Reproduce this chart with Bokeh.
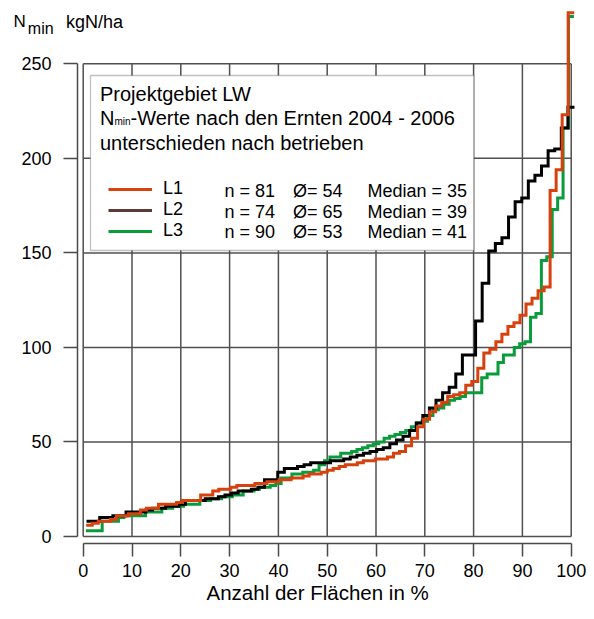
from bokeh.plotting import figure
from bokeh.models import (Range1d, LinearAxis, FixedTicker, BoxAnnotation, Label,
                          Legend, LegendItem, Title)
from bokeh.embed import file_html
from bokeh.resources import INLINE

# ---------------- data ----------------
percent_ticks = [0, 10, 20, 30, 40, 50, 60, 70, 80, 90, 100]
value_ticks = [0, 50, 100, 150, 200, 250]

series_names = ["L1", "L2", "L3"]
series_n = [81, 74, 90]
series_mean = [54, 65, 53]
series_median = [35, 39, 41]

# sorted Nmin values (kgN/ha) per Betrieb
l1_values = [6, 7, 8, 8, 9, 11, 11, 12, 12, 14,
             15, 15, 17, 17, 17, 18, 19, 19, 19, 22,
             22, 24, 25, 25, 26, 27, 27, 27, 28, 28,
             29, 29, 30, 30, 31, 31, 32, 33, 33, 34,
             35, 36, 37, 38, 38, 39, 40, 40, 41, 41,
             42, 44, 45, 48, 52, 58, 62, 66, 69, 71,
             74, 75, 76, 80, 82, 89, 97, 99, 103, 107,
             111, 113, 117, 123, 126, 130, 132, 183, 194, 223,
             277]
l2_values = [8, 8, 10, 10, 11, 11, 13, 13, 13, 14,
             15, 15, 16, 16, 17, 19, 19, 19, 20, 20,
             21, 22, 23, 24, 24, 25, 26, 30, 30, 34,
             36, 36, 37, 38, 39, 39, 39, 40, 40, 41,
             42, 43, 44, 45, 46, 47, 49, 51, 53, 56,
             60, 64, 68, 72, 76, 79, 86, 96, 96, 114,
             134, 151, 155, 158, 169, 177, 179, 188, 191, 196,
             204, 205, 216, 227]
l3_values = [3, 3, 3, 8, 8, 8, 10, 11, 11, 11,
             11, 13, 13, 13, 15, 15, 16, 16, 17, 17,
             17, 19, 19, 20, 20, 21, 21, 22, 22, 24,
             24, 25, 26, 26, 27, 28, 31, 31, 33, 33,
             34, 34, 35, 38, 40, 42, 42, 44, 44, 45,
             46, 47, 48, 49, 50, 52, 53, 54, 55, 56,
             58, 60, 61, 64, 67, 68, 70, 72, 73, 74,
             76, 76, 76, 84, 86, 86, 92, 96, 96, 100,
             102, 103, 116, 118, 146, 148, 173, 179, 216, 275]

series_values = [l1_values, l2_values, l3_values]
line_colors = ["#d8400e", "#000000", "#0a9b3a"]
legend_colors = ["#d8400e", "#5c3a36", "#0a9b3a"]

# ---------------- layout constants (pixels) ----------------
W, H = 594, 619
FL, FR, FT, FB = 77, 580, 8, 543          # frame edges
X0PX, X100PX = 82.7, 570.7                # grid box left/right
Y0PX, Y250PX = 536.0, 63.3                # grid box bottom/top
SX = (X100PX - X0PX) / (percent_ticks[-1] - percent_ticks[0])
SY = (Y0PX - Y250PX) / (value_ticks[-1] - value_ticks[0])


def xd(px):
    return (px - X0PX) / SX


def yd(py):
    return (Y0PX - py) / SY


FONT = "Liberation Sans"
NBSP = "\u00a0"

p = figure(width=W, height=H,
           x_range=Range1d(xd(FL), xd(FR)), y_range=Range1d(yd(FB), yd(FT)),
           output_backend="svg", toolbar_location=None,
           x_axis_type=None, y_axis_type=None,
           min_border_left=FL, min_border_right=W - FR,
           min_border_top=FT, min_border_bottom=H - FB)
p.outline_line_color = None
p.background_fill_color = "white"
p.border_fill_color = "white"

AX_COL = "#4a4a4a"

# axes (offset from the grid box, as in the original)
yaxis = LinearAxis(ticker=FixedTicker(ticks=value_ticks),
                   bounds=(value_ticks[0], value_ticks[-1]),
                   major_tick_out=14, major_tick_in=0,
                   minor_tick_out=0, minor_tick_in=0,
                   major_label_standoff=12,
                   axis_line_color=AX_COL, axis_line_width=1.5,
                   major_tick_line_color=AX_COL, major_tick_line_width=1.5,
                   major_label_text_font=FONT,
                   major_label_text_font_size="18px",
                   major_label_text_color="black")
p.add_layout(yaxis, "left")

xaxis = LinearAxis(ticker=FixedTicker(ticks=percent_ticks),
                   bounds=(percent_ticks[0], percent_ticks[-1]),
                   major_tick_out=13, major_tick_in=0,
                   minor_tick_out=0, minor_tick_in=0,
                   major_label_standoff=7,
                   axis_line_color=AX_COL, axis_line_width=1.5,
                   major_tick_line_color=AX_COL, major_tick_line_width=1.5,
                   major_label_text_font=FONT,
                   major_label_text_font_size="18px",
                   major_label_text_color="black",
                   axis_label="Anzahl der Flächen in %" + NBSP * 4,
                   axis_label_standoff=1,
                   axis_label_text_font=FONT,
                   axis_label_text_font_size="20.5px",
                   axis_label_text_font_style="normal",
                   axis_label_text_color="black")
p.add_layout(xaxis, "below")

# grid box with grid lines
GRID_COL = "#505050"
p.segment(x0=percent_ticks, y0=value_ticks[0], x1=percent_ticks, y1=value_ticks[-1],
          line_color=GRID_COL, line_width=1.5)
p.segment(x0=percent_ticks[0], y0=value_ticks, x1=percent_ticks[-1], y1=value_ticks,
          line_color=GRID_COL, line_width=1.5)


def step_coords(vals, n):
    xs = [(i + 0.5) / n * 100 for i in range(n)] + [(n + 0.5) / n * 100]
    ys = vals + [vals[-1]]
    return xs, ys


# step curves (green, black, red drawing order)
renderers = {}
for idx in [2, 1, 0]:
    xs, ys = step_coords(series_values[idx], series_n[idx])
    renderers[idx] = p.step(xs, ys, mode="after", line_color=line_colors[idx],
                            line_width=3, line_join="miter")

# hidden copy of L2 in the legend colour (brown sample in the legend)
xs2, ys2 = step_coords(series_values[1], series_n[1])
r_l2_legend = p.step(xs2, ys2, mode="after", line_color=legend_colors[1],
                     line_width=3, visible=False)

# legend box
box = BoxAnnotation(left=xd(90), right=xd(473.3), top=yd(75), bottom=yd(250),
                    fill_color="white", fill_alpha=1.0,
                    line_color="#333333", line_width=1.3)
p.add_layout(box)


def add_label(x_px, y_px, text, size):
    p.add_layout(Label(x=xd(x_px), y=yd(y_px), text=text,
                       text_font=FONT, text_font_size=f"{size}px",
                       text_color="black", text_align="left",
                       text_baseline="alphabetic"))


TITLE_FS = 20
title_x = 99.5
add_label(title_x, 93.0, "Projektgebiet LW", TITLE_FS)
add_label(title_x, 117.0, "N", TITLE_FS)
min_x = title_x + 0.722 * TITLE_FS
add_label(min_x, 120.7, "min", 10)
add_label(min_x + 1.611 * 10, 117.0, "-Werte nach den Ernten 2004 - 2006", TITLE_FS)
add_label(title_x, 142.0, "unterschieden nach betrieben", TITLE_FS)

# legend rows
legend = Legend(items=[LegendItem(label=series_names[0], renderers=[renderers[0]]),
                       LegendItem(label=series_names[1], renderers=[r_l2_legend]),
                       LegendItem(label=series_names[2], renderers=[renderers[2]])],
                location=(108 - FL, 302), orientation="vertical",
                glyph_width=44, glyph_height=20, label_height=20,
                label_standoff=11, spacing=0, padding=0, margin=0,
                border_line_color=None, background_fill_alpha=0,
                inactive_fill_alpha=0,
                label_text_font=FONT, label_text_font_size="18px",
                label_text_color="black")
p.add_layout(legend, "center")

ROW_FS = 18
for k in range(3):
    base = 190.5 + k * 20.7
    add_label(224, base, f"n = {series_n[k]}", ROW_FS)
    add_label(292.5, base, f"Ø= {series_mean[k]}", ROW_FS)
    add_label(367, base, f"Median = {series_median[k]}", ROW_FS)


# y axis title at the top left (N_min kgN/ha): titles in the top panel.  A title's
# box bottom sits at the frame top minus standoff/2; a negative standoff moves it
# down and leaves the panel without height, so the frame keeps its place.
def header(text, size, x_px, baseline_px):
    box_bottom = baseline_px + 0.22 * size
    p.add_layout(Title(text=text, align="left", vertical_align="bottom",
                       offset=x_px - FL, standoff=-2 * (box_bottom - FT),
                       text_font=FONT, text_font_size=f"{size}px",
                       text_font_style="normal", text_color="black"), "above")


header("kgN/ha", 18, 65.5, 27.2)
header("N", 17, 13, 27.2)
header("min", 16, 27.3, 33.0)

open("out.html", "w").write(file_html(p, INLINE))
